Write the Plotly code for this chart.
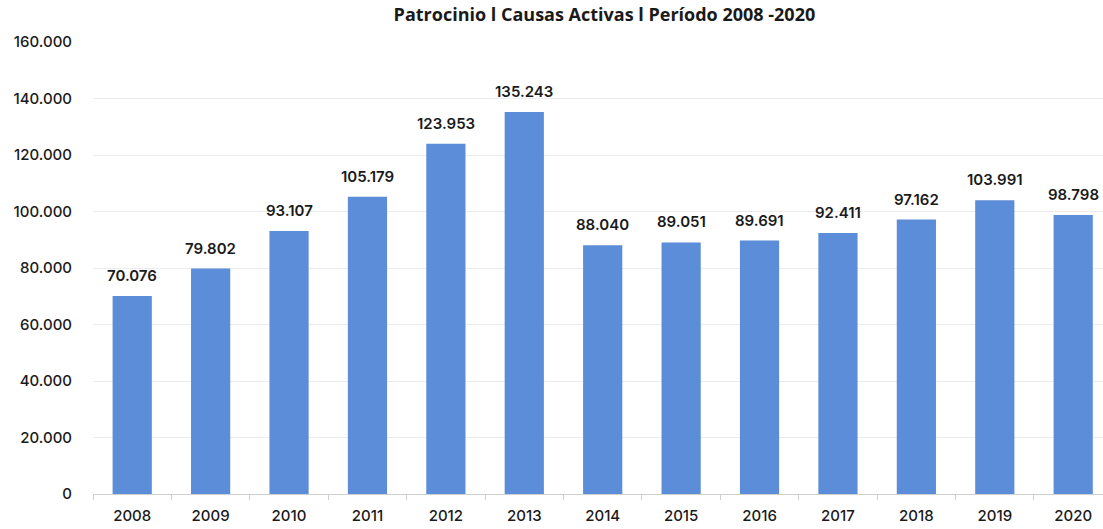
import plotly.graph_objects as go

years = ["2008", "2009", "2010", "2011", "2012", "2013", "2014",
         "2015", "2016", "2017", "2018", "2019", "2020"]
causas_activas = [70076, 79802, 93107, 105179, 123953, 135243, 88040,
                  89051, 89691, 92411, 97162, 103991, 98798]
y_ticks = [0, 20000, 40000, 60000, 80000, 100000, 120000, 140000, 160000]

label_font = dict(family="Inter", size=15, color="#1a1a1a", weight=600)
tick_font = dict(family="Inter", size=15, color="#1a1a1a", weight=500)


def fmt_miles(v):
    return f"{v:,d}".replace(",", ".")


fig = go.Figure(
    go.Bar(
        x=years,
        y=causas_activas,
        marker=dict(color="#5b8dd8", line=dict(width=0)),
        width=0.5,
        hoverinfo="x+y",
    )
)

# value labels above each bar (x given as category index)
for i, v in enumerate(causas_activas):
    fig.add_annotation(
        x=i,
        y=v,
        text=fmt_miles(v),
        showarrow=False,
        xanchor="center",
        yanchor="bottom",
        yshift=9,
        font=label_font,
    )

fig.update_layout(
    width=1103,
    height=529,
    margin=dict(l=93, r=0, t=42, b=35),
    paper_bgcolor="white",
    plot_bgcolor="white",
    separators=",.",
    showlegend=False,
    title=dict(
        text="<b>Patrocinio l Causas Activas l Período 2008 -2020</b>",
        x=0.548,
        xanchor="center",
        y=0.973,
        yanchor="middle",
        font=dict(family="Open Sans", size=18, color="#1a1a1a"),
    ),
)

fig.update_xaxes(
    type="category",
    range=[-0.5, 12.38],
    showgrid=False,
    showline=True,
    linecolor="#d0d0d0",
    linewidth=1,
    ticks="outside",
    tickcolor="#d0d0d0",
    ticklen=5,
    tickson="boundaries",
    tickfont=tick_font,
    ticklabelstandoff=8,
)

fig.update_yaxes(
    range=[0, 160000],
    tickvals=y_ticks,
    tickformat=",d",
    showgrid=True,
    gridcolor="#ececec",
    gridwidth=1,
    zeroline=False,
    showline=False,
    ticks="",
    tickfont=tick_font,
    ticklabelstandoff=20,
)

fig.write_html("out.html")
